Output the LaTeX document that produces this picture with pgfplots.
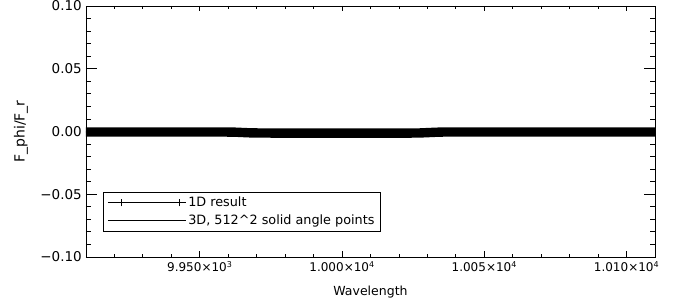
\documentclass[border=0pt]{standalone}
\usepackage{fontspec}
\setmainfont{DejaVu Sans}
\usepackage{pgfplots}
\pgfplotsset{compat=1.18}
\pgfplotstableread{
x y
9910 -0.0004
9920 -0.0004
9930 -0.0004
9940 -0.0004
9950 -0.0004
9958 -0.0004
9962 -0.0005
9965 -0.0008
9968 -0.0011
9972 -0.0012
9980 -0.0013
9990 -0.0013
10000 -0.0013
10010 -0.0013
10020 -0.0013
10027 -0.0012
10030 -0.0009
10033 -0.0006
10036 -0.0004
10040 -0.0004
10050 -0.0004
10060 -0.0004
10070 -0.0004
10080 -0.0004
10090 -0.0004
10100 -0.0004
10110 -0.0004
}\oneD
\pgfplotstableread{
x y
9910 -0.0004
9930 -0.0004
9950 -0.0004
9960 -0.0004
9964 -0.0006
9968 -0.0011
9975 -0.0012
10000 -0.0013
10025 -0.0012
10030 -0.0009
10034 -0.0005
10040 -0.0004
10060 -0.0004
10080 -0.0004
10110 -0.0004
}\threeD
\begin{document}
\fontsize{12}{14}\selectfont
\begin{tikzpicture}
\useasboundingbox (-86pt,-45pt) rectangle (597pt,257pt);
\begin{axis}[
  at={(0pt,0pt)}, anchor=south west,
  width=569pt, height=251pt, scale only axis,
  xmin=9910, xmax=10110, ymin=-0.1, ymax=0.1,
  scaled x ticks=false, scaled y ticks=false,
  xtick={9950,10000,10050,10100},
  xticklabels={9.950×10\textsuperscript{3}, 1.000×10\textsuperscript{4}, 1.005×10\textsuperscript{4}, 1.010×10\textsuperscript{4}},
  ytick={-0.1,-0.05,0,0.05,0.1},
  yticklabels={−0.10,−0.05,0.00,0.05,0.10},
  minor xtick={9920,9930,9940,9960,9970,9980,9990,10010,10020,10030,10040,10060,10070,10080,10090},
  minor ytick={-0.09,-0.08,-0.07,-0.06,-0.04,-0.03,-0.02,-0.01,0.01,0.02,0.03,0.04,0.06,0.07,0.08,0.09},
  tick align=inside,
  xtick style={/pgfplots/major tick length=5.5pt, /pgfplots/minor tick length=2.8pt},
  ytick style={/pgfplots/major tick length=11pt, /pgfplots/minor tick length=5.5pt},
  axis line style={line width=0.8pt},
  every tick/.append style={black, line width=0.8pt},
  xticklabel style={font=\fontsize{12}{14}\selectfont},
  yticklabel style={font=\fontsize{13.5}{15}\selectfont},
  xlabel={Wavelength}, ylabel={F\_phi/F\_r},
  xlabel style={at={(axis description cs:0.5,-0.1394)}, anchor=center, font=\fontsize{12.5}{14}\selectfont},
  ylabel style={at={(axis description cs:-0.1142,0.5)}, anchor=center, font=\fontsize{14}{16}\selectfont},
  legend style={at={(axis description cs:0.030,0.0996)}, anchor=south west,
    draw=black, line width=0.8pt, fill=white, rounded corners=0pt,
    font=\fontsize{12.8}{14}\selectfont, row sep=2.5pt, inner xsep=4pt, inner ysep=3pt},
  legend cell align=left,
]
\addplot[black, line width=9.4pt, forget plot] table[x=x,y=y] {\oneD};
\addplot[black, line width=0.8pt, forget plot] table[x=x,y=y] {\threeD};
\addlegendimage{legend image code/.code={\path (-8pt,0pt) -- (70pt,0pt); \draw[black,line width=0.8pt] (2.5pt,0pt)--(67.5pt,0pt); \draw[black,line width=0.8pt] (6pt,-3.5pt)--(6pt,3.5pt) (64pt,-3.5pt)--(64pt,3.5pt);}}
\addlegendentry{1D result}
\addlegendimage{legend image code/.code={\path (-8pt,0pt) -- (70pt,0pt); \draw[black,line width=0.8pt] (6pt,0pt)--(64pt,0pt);}}
\addlegendentry{3D, 512\textasciicircum 2 solid angle points}
\end{axis}
\end{tikzpicture}
\end{document}
